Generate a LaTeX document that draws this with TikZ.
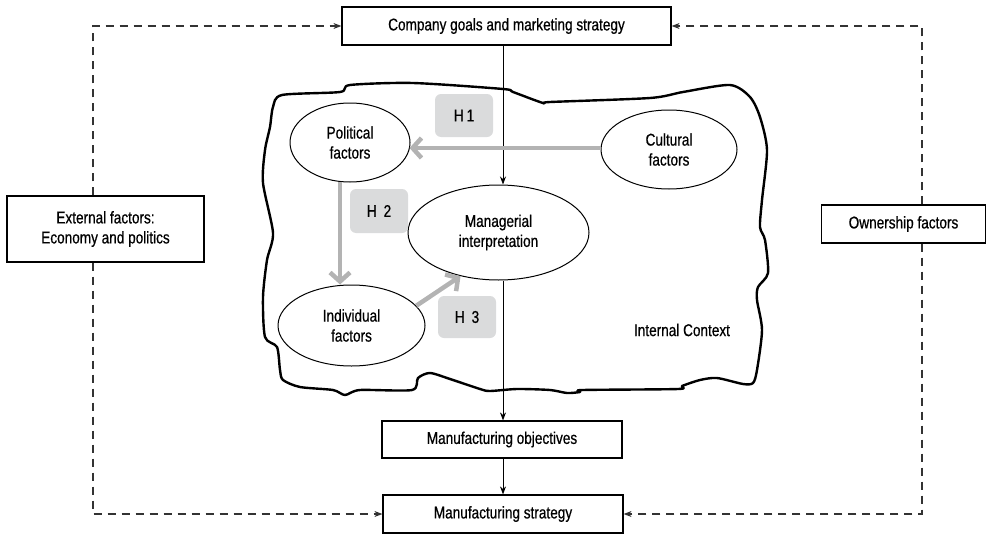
\documentclass[tikz,border=0pt]{standalone}
\usepackage{fontspec}
\setmainfont[FakeStretch=0.8,FakeBold=0.6]{Liberation Sans}
\usetikzlibrary{arrows.meta,shapes.geometric}
\definecolor{hgray}{HTML}{B3B3B3}
\definecolor{hfill}{HTML}{DADBDC}
\begin{document}
\begin{tikzpicture}[x=1pt,y=-1pt,
  every node/.style={font=\fontsize{17}{20}\selectfont, align=center, inner sep=0pt},
  boxn/.style={draw, line width=1.2pt, rectangle},
  elln/.style={draw, line width=1pt, ellipse},
  hbox/.style={fill=hfill, rounded corners=6pt},
  arr/.style={line width=0.9pt, -{Stealth[length=8pt,width=6pt]}},
  garr/.style={draw=hgray, line width=4.5pt, -{Straight Barb[length=9pt,width=20pt]}},
  dashl/.style={draw=black!80, line width=1.1pt, dash pattern=on 8pt off 6pt, -{Stealth[length=8pt,width=6pt]}},
  cloud/.style={draw, line width=2.4pt, line join=round}
]
\useasboundingbox (0,0) rectangle (987,535);

% internal context outline
\draw[cloud] plot[smooth cycle, tension=0.45] coordinates {
(282,95) (340,92) (350,85) (413,83) (503,89) (513,92) (543,103) (550,102)
(650,98) (683,92) (730,85) (750,97) (760,117) (767,150) (762,200) (760,227)
(765,240) (768,273) (758,287) (757,300) (762,330) (757,370) (753,383) (743,384)
(717,378) (700,380) (682,386) (678,389) (583,390) (580,392) (567,393) (550,390)
(517,389) (490,391) (480,389) (450,379) (430,373) (418,378) (412,390) (360,390)
(345,395) (333,390) (300,387) (283,380) (280,370) (277,347) (265,337) (263,297)
(267,260) (273,233) (263,183) (265,150) (270,127) (273,107)};

% boxes
\node[boxn, minimum width=329pt, minimum height=38pt] (top) at (506.5,26) {Company goals and marketing strategy};
\node[boxn, minimum width=197pt, minimum height=66pt] (ext) at (105.5,229) {External factors:\\Economy and politics};
\node[boxn, minimum width=164pt, minimum height=38pt] (own) at (903.5,224) {Ownership factors};
\node[boxn, minimum width=240pt, minimum height=37pt] (obj) at (502,439.5) {Manufacturing objectives};
\node[boxn, minimum width=240pt, minimum height=38pt] (strat) at (503,514) {Manufacturing strategy};

% ellipses
\node[elln, minimum width=120pt, minimum height=79pt] (pol) at (350,142.5) {Political\\factors};
\node[elln, minimum width=136pt, minimum height=79pt] (cul) at (669,149.5) {Cultural\\factors};
\node[elln, minimum width=181pt, minimum height=95pt] (man) at (498.5,232.5) {Managerial\\interpretation};
\node[elln, minimum width=147pt, minimum height=81pt] (ind) at (351.5,325.5) {Individual\\factors};

% hypothesis labels
\node[hbox, minimum width=58pt, minimum height=43pt] (h1) at (464,115.5) {H\hspace{3pt}1};
\node[hbox, minimum width=58pt, minimum height=44pt] (h2) at (379,211) {H\hspace{7pt}2};
\node[hbox, minimum width=58pt, minimum height=42pt] (h3) at (467,317) {H\hspace{7pt}3};

\node (ic) at (682,330) {Internal Context};

% main flow
\coordinate (sp) at (503,0);
\draw[arr] (top.south -| sp) -- (man.north -| sp);
\draw[arr] (man.south -| sp) -- (obj.north -| sp);
\draw[arr] (obj.south -| sp) -- (strat.north -| sp);

% hypotheses arrows
\draw[garr] (cul.west |- 0,148) -- (409.5,148);
\coordinate (pv) at (340,0);
\draw[garr] (pv |- pol.south) ++(0,-1) -- (pv |- ind.north);
\draw[garr] (ind.17) -- (man.229);

% dashed links
\coordinate (dl) at (93,0);
\coordinate (dr) at (922,0);
\draw[dashl] (dl |- ext.north) |- (top.west);
\draw[dashl] (dl |- ext.south) |- (strat.west);
\draw[dashl] (dr |- own.north) |- (top.east);
\draw[dashl] (dr |- own.south) |- (strat.east);
\end{tikzpicture}
\end{document}
